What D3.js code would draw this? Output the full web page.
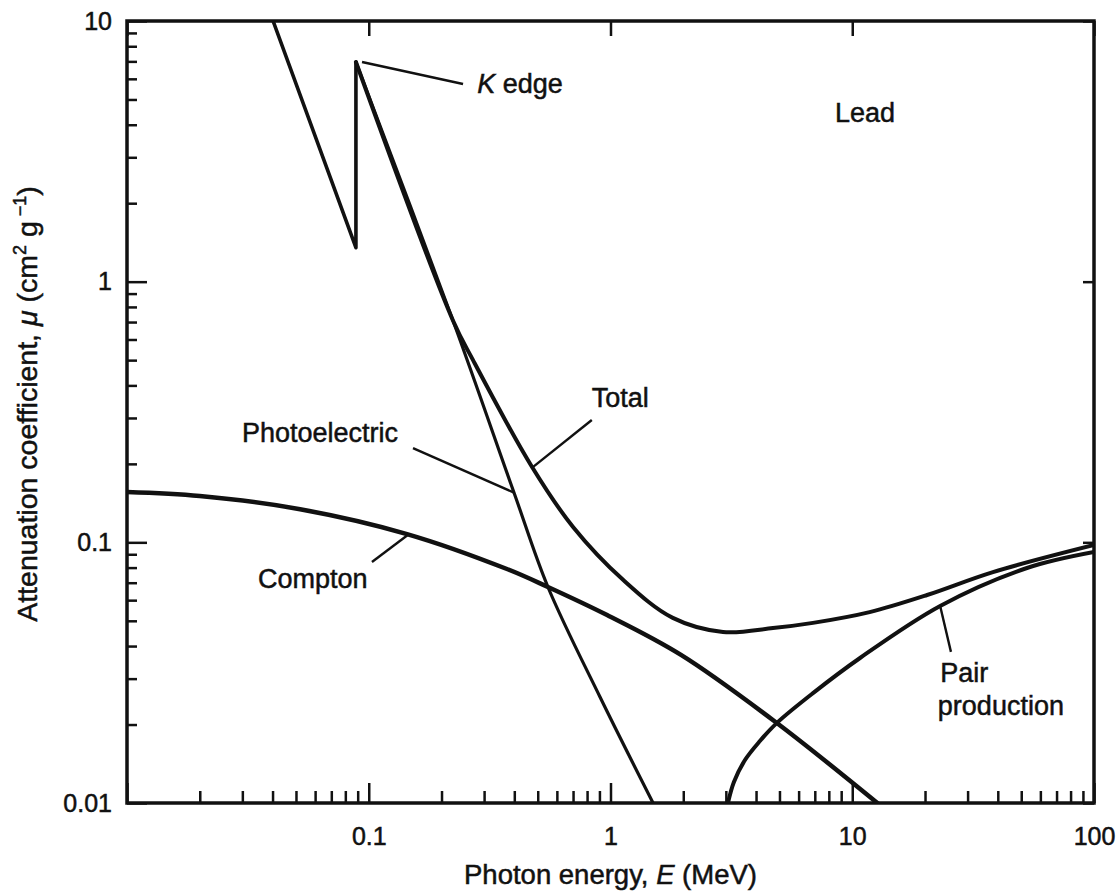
<!DOCTYPE html>
<html>
<head>
<meta charset="utf-8">
<script src="https://cdn.jsdelivr.net/npm/d3@7"></script>
<style>
  body { margin: 0; background: #fff; }
  svg text { font-family: "Liberation Sans", Arial, sans-serif; fill: #111; stroke: #111; stroke-width: 0.5; }
  .curve { fill: none; stroke: #111; stroke-linejoin: round; stroke-linecap: round; }
  .leader { stroke: #111; stroke-width: 2.4; }
  .tick line { stroke: #111; stroke-width: 2.5; }
</style>
</head>
<body>
<div class="chart"></div>
<script>
// Lead - attenuation coefficient vs photon energy
const xTicks = [0.01, 0.1, 1, 10, 100];
const xTickLabels = ['', '0.1', '1', '10', '100'];
const yTicks = [0.01, 0.1, 1, 10];
const yTickLabels = ['0.01', '0.1', '1', '10'];

// [E (MeV), mu (cm2/g)]
const photoLow = [[0.0402, 10], [0.0885, 1.35], [0.0885, 6.96]];
const photoHigh = [[0.0885, 6.96], [0.223, 0.71], [0.399, 0.155],
  [0.551, 0.0674], [0.905, 0.0255], [1.50, 0.01]];
const total = [[0.0885, 6.96], [0.223, 0.71], [0.27, 0.50],
  [0.473, 0.195], [0.70, 0.1145], [1.127, 0.0718], [1.81, 0.0513], [2.92, 0.0453],
  [4.70, 0.0469], [6.88, 0.0491], [11.8, 0.0540], [20.4, 0.0628], [38.2, 0.0769],
  [100, 0.0977]];
const compton = [[0.01, 0.156], [0.02, 0.1506], [0.052, 0.134], [0.144, 0.1076],
  [0.373, 0.0790], [0.551, 0.0674], [0.968, 0.0526], [1.957, 0.0370],
  [4.80, 0.0205], [12.7, 0.01]];
const pair = [[3.06, 0.01], [3.24, 0.01204], [3.60, 0.01462], [4.15, 0.01729],
  [4.88, 0.0203], [6.88, 0.0264], [10.77, 0.0360], [23.1, 0.057], [52.8, 0.0797],
  [100, 0.0918]];

// text labels, anchored in data coordinates (left end of baseline)
const labels = [
  {parts: [['Lead']], e: 8.49, mu: 4.10},
  {parts: [['K', true], [' edge']], e: 0.281, mu: 5.29},
  {parts: [['Photoelectric']], e: 0.0299, mu: 0.2426},
  {parts: [['Total']], e: 0.837, mu: 0.330},
  {parts: [['Compton']], e: 0.0348, mu: 0.0668},
  {parts: [['Pair']], e: 23.1, mu: 0.0291},
  {parts: [['production']], e: 22.6, mu: 0.0218}
];
const leaders = [
  [[0.0938, 6.96], [0.2455, 5.73]],
  [[0.1524, 0.230], [0.399, 0.155]],
  [[0.837, 0.2946], [0.473, 0.193]],
  [[0.1031, 0.0841], [0.145, 0.1067]],
  [[23.1, 0.057], [25.6, 0.038]]
];

const width = 1120, height = 894;
const margin = {top: 21, right: 26, bottom: 91, left: 127};

const svg = d3.select('.chart').append('svg')
  .attr('width', width)
  .attr('height', height);

const x = d3.scaleLog().domain([0.01, 100]).range([margin.left, width - margin.right]);
const y = d3.scaleLog().domain([0.01, 10]).range([height - margin.bottom, margin.top]);

function minors(lo, hi) {
  const out = [];
  for (let d = lo; d < hi * 0.99; d *= 10)
    for (let k = 2; k < 10; k++) out.push(+(d * k).toPrecision(3));
  return out;
}

const fontSize = 25;

// bottom axis
svg.append('g')
  .attr('transform', `translate(0,${y(0.01)})`)
  .call(d3.axisBottom(x).tickValues(minors(0.01, 100)).tickSize(-12).tickFormat(''))
  .call(g => g.select('.domain').remove());
svg.append('g')
  .attr('transform', `translate(0,${y(0.01)})`)
  .call(d3.axisBottom(x).tickValues(xTicks).tickSize(-20).tickPadding(24)
    .tickFormat((d, i) => xTickLabels[i]))
  .call(g => g.select('.domain').remove())
  .attr('font-size', fontSize);

// left axis
svg.append('g')
  .attr('transform', `translate(${x(0.01)},0)`)
  .call(d3.axisLeft(y).tickValues(minors(0.01, 10)).tickSize(-10).tickFormat(''))
  .call(g => g.select('.domain').remove());
svg.append('g')
  .attr('transform', `translate(${x(0.01)},0)`)
  .call(d3.axisLeft(y).tickValues(yTicks).tickSize(-20).tickPadding(15)
    .tickFormat((d, i) => yTickLabels[i]))
  .call(g => g.select('.domain').remove())
  .attr('font-size', fontSize);

// top and right: decade ticks only
svg.append('g')
  .attr('transform', `translate(0,${y(10)})`)
  .call(d3.axisTop(x).tickValues(xTicks).tickSize(-15).tickFormat(''))
  .call(g => g.select('.domain').remove());
svg.append('g')
  .attr('transform', `translate(${x(100)},0)`)
  .call(d3.axisRight(y).tickValues(yTicks).tickSize(-11).tickFormat(''))
  .call(g => g.select('.domain').remove());

// frame
svg.append('rect')
  .attr('x', x(0.01))
  .attr('y', y(10))
  .attr('width', x(100) - x(0.01))
  .attr('height', y(0.01) - y(10))
  .attr('fill', 'none')
  .attr('stroke', '#111')
  .attr('stroke-width', 3.5);

svg.append('clipPath').attr('id', 'plot')
  .append('rect')
  .attr('x', x(0.01))
  .attr('y', y(10))
  .attr('width', x(100) - x(0.01))
  .attr('height', y(0.01) - y(10));

const smooth = d3.line().x(d => x(d[0])).y(d => y(d[1])).curve(d3.curveCatmullRom.alpha(0.5));
const straight = d3.line().x(d => x(d[0])).y(d => y(d[1]));

const curves = svg.append('g').attr('clip-path', 'url(#plot)');
curves.append('path').attr('class', 'curve').attr('d', straight(photoLow)).attr('stroke-width', 3.6);
curves.append('path').attr('class', 'curve').attr('d', smooth(photoHigh)).attr('stroke-width', 3.2);
curves.append('path').attr('class', 'curve').attr('d', smooth(total)).attr('stroke-width', 4);
curves.append('path').attr('class', 'curve').attr('d', smooth(compton)).attr('stroke-width', 4.5);
curves.append('path').attr('class', 'curve').attr('d', smooth(pair)).attr('stroke-width', 4);

// leader lines
svg.selectAll('.leader')
  .data(leaders)
  .join('line')
  .attr('class', 'leader')
  .attr('x1', d => x(d[0][0]))
  .attr('y1', d => y(d[0][1]))
  .attr('x2', d => x(d[1][0]))
  .attr('y2', d => y(d[1][1]));

// labels
const lab = svg.selectAll('.label')
  .data(labels)
  .join('text')
  .attr('class', 'label')
  .attr('x', d => x(d.e))
  .attr('y', d => y(d.mu))
  .attr('font-size', 27);
lab.selectAll('tspan')
  .data(d => d.parts)
  .join('tspan')
  .attr('font-style', p => p[1] ? 'italic' : null)
  .text(p => p[0]);

// axis titles
const xt = svg.append('text')
  .attr('x', (x(0.01) + x(100)) / 2)
  .attr('y', 884)
  .attr('text-anchor', 'middle')
  .attr('font-size', 27.5);
xt.append('tspan').text('Photon energy, ');
xt.append('tspan').attr('font-style', 'italic').text('E');
xt.append('tspan').text(' (MeV)');

const yt = svg.append('text')
  .attr('transform', `translate(37,${(y(10) + y(0.01)) / 2 - 8}) rotate(-90)`)
  .attr('text-anchor', 'middle')
  .attr('font-size', 28.5);
yt.append('tspan').text('Attenuation coefficient, ');
yt.append('tspan').attr('font-style', 'italic').text('μ');
yt.append('tspan').text(' (cm');
yt.append('tspan').attr('font-size', 18).attr('dy', -11).text('2');
yt.append('tspan').attr('dy', 11).text('  g');
yt.append('tspan').attr('font-size', 18).attr('dy', -11).text(' −1');
yt.append('tspan').attr('dy', 11).text(')');
</script>
</body>
</html>
